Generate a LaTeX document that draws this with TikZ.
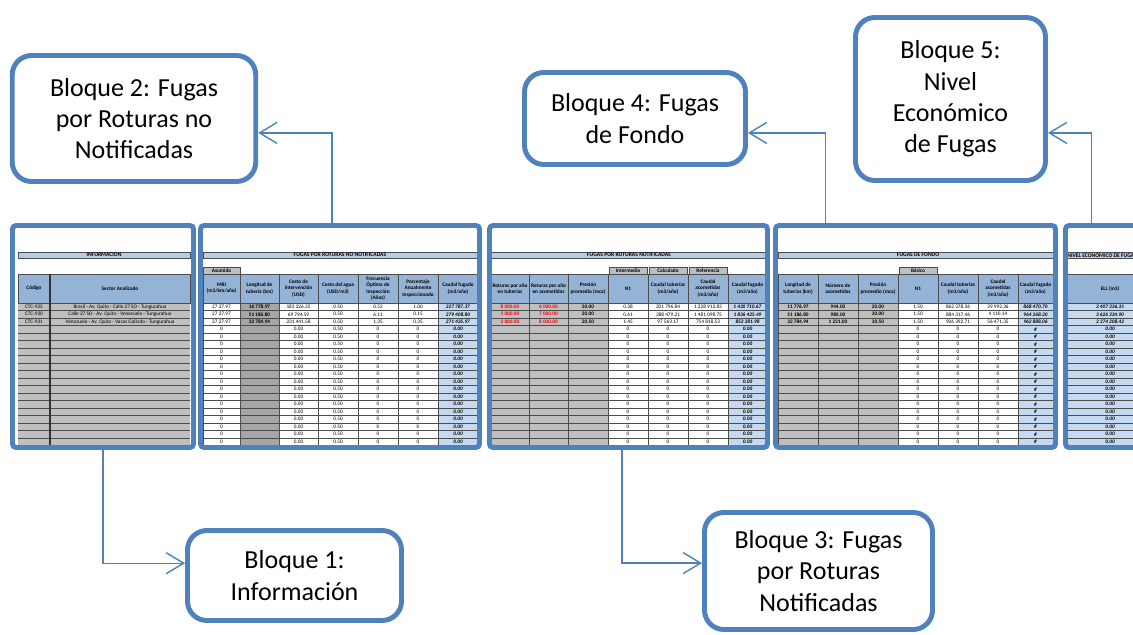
\documentclass[tikz,border=0pt]{standalone}
\usepackage{fontspec}
\setmainfont{Carlito}
\usetikzlibrary{arrows.meta}
\definecolor{marco}{RGB}{79,129,189}
\definecolor{cabecera}{RGB}{149,179,215}
\definecolor{barra}{RGB}{184,204,228}
\definecolor{celdagris}{RGB}{191,191,191}
\definecolor{grisosc}{RGB}{166,166,166}
\definecolor{celdaazul}{RGB}{197,217,241}
\newcommand{\pxu}{0.02cm}
\newcommand{\negrita}[1]{\textbf{\textit{#1}}}
\newcommand{\rojo}[1]{{\color{red}\textbf{#1}}}
\begin{document}
\begin{tikzpicture}[x=0.02cm,y=-0.02cm,>={Straight Barb[length=10pt,width=12pt]},
	bloque/.style={draw=marco,line width=2.8pt,rounded corners=11pt,fill=white,align=center,inner sep=0pt,font=\fontsize{14.8}{17.8}\selectfont},
	tabla/.style={draw=marco,line width=2.8pt,rounded corners=2pt,inner sep=0pt},
	conn/.style={->,draw=marco,line width=0.8pt},
	celda/.style={draw=gray!60!black,line width=0.2pt},
	txt/.style={font=\fontsize{3}{3.6}\selectfont,inner sep=0pt,align=center},
	hdr/.style={txt,font=\fontsize{3}{3.6}\selectfont\bfseries},
	titulo/.style={txt,font=\fontsize{3.2}{3.6}\selectfont\bfseries}]
	\fill[white] (0,0) rectangle (1133,635);
	\useasboundingbox (0,0) rectangle (1133,635);
	% tabla 1: informacion
	\draw[celda,fill=barra] (18,252) rectangle (190,258);
	\node[titulo] (tit1) at (104,255) {INFORMACION};
	\draw[celda,fill=cabecera] (18,274) rectangle (50,303) (50,274) rectangle (190,303);
	\node[hdr] (h1-1) at (34,288.5) {Código};
	\node[hdr] (h1-2) at (120,288.5) {Sector Analizado};
	\fill[celdagris] (18,303) rectangle (190,445);
	\foreach \i in {0,...,19} \draw[celda] (18,303+7.5*\i) -- (190,303+7.5*\i);
	\draw[line width=0.6pt,gray!40!black] (50,274) -- (50,445);
	\foreach \cod/\sector [count=\i] in {CTC-925/Brasil - Av. Quito - Calle 27 SO - Tungurahua,
		CTC-930/Calle 27 SO - Av. Quito - Venezuela - Tungurahua,
		CTC-931/Venezuela - Av. Quito - Vacas Galindo - Tungurahua}{
		\node[txt] (d1-1-\i) at (34,299.25+7.5*\i) {\cod};
		\node[txt] (d1-2-\i) at (120,299.25+7.5*\i) {\sector};
	}
	% tabla 2: roturas no notificadas
	\draw[celda,fill=barra] (203,252) rectangle (478,258);
	\node[titulo] (tit2) at (340,255) {FUGAS POR ROTURAS NO NOTIFICADAS};
	\draw[celda,fill=celdagris] (203,267) rectangle (240,274);
	\node[hdr] (tab2) at (221.5,270.5) {Asumido};
	\foreach \xa/\xb/\relleno/\cab/\va/\vb/\vc/\vr [count=\j] in {
		203/240/white/{MRI\\(m3/km/año)}/27 27.97/27 27.97/27 27.97/0,
		240/279/grisosc/{Longitud de\\tubería (km)}/\textbf{16 778.97}/\textbf{51 186.80}/\textbf{32 784.94}/{},
		279/318/white/{Costo de\\intervención\\(USD)}/183 226.35/69 794.59/231 441.58/0.00,
		318/358/white/{Costo del agua\\(USD/m3)}/0.50/0.50/0.50/0.50,
		358/398/white/{Frecuencia\\Óptima de\\Inspección\\(Años)}/0.52/6.11/1.35/0,
		398/438/white/{Porcentaje\\Anualmente\\Inspeccionado}/1.00/0.15/0.35/0,
		438/478/celdaazul/{Caudal fugado\\(m3/año)}/\negrita{227 787.37}/\negrita{279 408.80}/\negrita{271 435.97}/\negrita{0.00}}{
		\draw[celda,fill=cabecera] (\xa,274) rectangle (\xb,303);
		\node[hdr] (h2-\j) at ({(\xa+\xb)/2},288.5) {\cab};
		\fill[\relleno] (\xa,303) rectangle (\xb,445);
		\node[txt] (d2-\j-1) at ({(\xa+\xb)/2},306.75) {\va};
		\node[txt] (d2-\j-2) at ({(\xa+\xb)/2},314.25) {\vb};
		\node[txt] (d2-\j-3) at ({(\xa+\xb)/2},321.75) {\vc};
		\foreach \i in {4,...,19} \node[txt] (d2-\j-\i) at ({(\xa+\xb)/2},299.25+7.5*\i) {\vr};
	}
	\foreach \i in {0,...,19} \draw[celda] (203,303+7.5*\i) -- (478,303+7.5*\i);
	\foreach \x in {203,240,279,318,358,398,438,478} \draw[celda] (\x,303) -- (\x,445);
	% tabla 3: roturas notificadas
	\draw[celda,fill=barra] (491,252) rectangle (767,258);
	\node[titulo] (tit3) at (629,255) {FUGAS POR ROTURAS NOTIFICADAS};
	\foreach \xa/\xb/\pest [count=\j] in {608/648/Intermedio,648/688/Calculado,688/728/Referencia}{
		\draw[celda,fill=celdagris] (\xa+1,267) rectangle (\xb-1,274);
		\node[hdr] (tab3-\j) at ({(\xa+\xb)/2},270.5) {\pest};
	}
	\foreach \xa/\xb/\relleno/\cab/\va/\vb/\vc/\vr [count=\j] in {
		491/529/celdagris/{Roturas por año\\en tuberías}/\rojo{8 000.00}/\rojo{1 000.00}/\rojo{2 000.00}/{},
		529/568/celdagris/{Roturas por año\\en acometidas}/\rojo{6 000.00}/\rojo{7 000.00}/\rojo{8 000.00}/{},
		568/608/celdagris/{Presión\\promedio (mca)}/\textbf{20.00}/\textbf{20.00}/\textbf{20.50}/{},
		608/648/white/{N1}/0.38/0.61/1.45/0,
		648/688/white/{Caudal tuberías\\(m3/año)}/201 796.84/388 479.21/97 563.17/0,
		688/728/white/{Caudal\\acometidas\\(m3/año)}/1 228 913.83/1 481 098.75/754 818.53/0,
		728/767/celdaazul/{Caudal fugado\\(m3/año)}/\negrita{1 430 710.67}/\negrita{1 836 425.49}/\negrita{852 381.98}/\negrita{0.00}}{
		\draw[celda,fill=cabecera] (\xa,274) rectangle (\xb,303);
		\node[hdr] (h3-\j) at ({(\xa+\xb)/2},288.5) {\cab};
		\fill[\relleno] (\xa,303) rectangle (\xb,445);
		\node[txt] (d3-\j-1) at ({(\xa+\xb)/2},306.75) {\va};
		\node[txt] (d3-\j-2) at ({(\xa+\xb)/2},314.25) {\vb};
		\node[txt] (d3-\j-3) at ({(\xa+\xb)/2},321.75) {\vc};
		\foreach \i in {4,...,19} \node[txt] (d3-\j-\i) at ({(\xa+\xb)/2},299.25+7.5*\i) {\vr};
	}
	\foreach \i in {0,...,19} \draw[celda] (491,303+7.5*\i) -- (767,303+7.5*\i);
	\foreach \x in {491,529,568,608,648,688,728,767} \draw[celda] (\x,303) -- (\x,445);
	% tabla 4: fugas de fondo
	\draw[celda,fill=barra] (778,252) rectangle (1053,258);
	\node[titulo] (tit4) at (918,255) {FUGAS DE FONDO};
	\draw[celda,fill=celdagris] (899,267) rectangle (937,274);
	\node[hdr] (tab4) at (918,270.5) {Básico};
	\foreach \xa/\xb/\relleno/\cab/\va/\vb/\vc/\vr [count=\j] in {
		778/818/celdagris/{Longitud de\\tuberías (km)}/\textbf{11 776.97}/\textbf{51 186.80}/\textbf{32 784.94}/{},
		818/858/celdagris/{Número de\\acometidas}/\textbf{944.00}/\textbf{980.00}/\textbf{1 231.00}/{},
		858/898/celdagris/{Presión\\promedio (mca)}/\textbf{20.00}/\textbf{30.00}/\textbf{30.50}/{},
		898/938/white/{N1}/1.50/1.50/1.50/0,
		938/978/white/{Caudal tuberías\\(m3/año)}/862 378.36/884 317.46/906 392.71/0,
		978/1018/white/{Caudal\\acometidas\\(m3/año)}/39 992.36/4 110.14/56 471.35/0,
		1018/1053/celdaazul/{Caudal fugado\\(m3/año)}/\negrita{868 470.70}/\negrita{964 268.20}/\negrita{962 888.06}/\negrita{\#}}{
		\draw[celda,fill=cabecera] (\xa,274) rectangle (\xb,303);
		\node[hdr] (h4-\j) at ({(\xa+\xb)/2},288.5) {\cab};
		\fill[\relleno] (\xa,303) rectangle (\xb,445);
		\node[txt] (d4-\j-1) at ({(\xa+\xb)/2},306.75) {\va};
		\node[txt] (d4-\j-2) at ({(\xa+\xb)/2},314.25) {\vb};
		\node[txt] (d4-\j-3) at ({(\xa+\xb)/2},321.75) {\vc};
		\foreach \i in {4,...,19} \node[txt] (d4-\j-\i) at ({(\xa+\xb)/2},299.25+7.5*\i) {\vr};
	}
	\foreach \i in {0,...,19} \draw[celda] (778,303+7.5*\i) -- (1053,303+7.5*\i);
	\foreach \x in {778,818,858,898,938,978,1018,1053} \draw[celda] (\x,303) -- (\x,445);
	% tabla 5: nivel economico
	\draw[celda,fill=barra] (1067,252) rectangle (1160,258);
	\node[titulo,anchor=west] (tit5) at (1067,255) {NIVEL ECONÓMICO DE FUGAS};
	\draw[celda,fill=cabecera] (1067,274) rectangle (1153,303);
	\node[hdr] (h5-1) at (1110,288.5) {ELL (m3)};
	\fill[celdaazul] (1067,303) rectangle (1153,445);
	\foreach \i in {0,...,19} \draw[celda] (1067,303+7.5*\i) -- (1153,303+7.5*\i);
	\foreach \v [count=\i] in {2 407 336.31,3 626 334.90,2 374 208.42} \node[txt] (d5-1-\i) at (1110,299.25+7.5*\i) {\negrita{\v}};
	\foreach \i in {4,...,19} \node[txt] (d5-1-\i) at (1110,299.25+7.5*\i) {\negrita{0.00}};
	% marcos
	\node[tabla,minimum width=181*\pxu,minimum height=222*\pxu] (t1) at (103,336.5) {};
	\node[tabla,minimum width=279*\pxu,minimum height=222*\pxu] (t2) at (340,336.5) {};
	\node[tabla,minimum width=278*\pxu,minimum height=222*\pxu] (t3) at (628.5,336.5) {};
	\node[tabla,minimum width=280*\pxu,minimum height=222*\pxu] (t4) at (915.5,336.5) {};
	\node[tabla,minimum width=110*\pxu,minimum height=222*\pxu] (t5) at (1120.5,336.5) {};
	% bloques
	\node[bloque,minimum width=243.5*\pxu,minimum height=126*\pxu] (b2) at (134,118.5) {Bloque 2: Fugas\\por Roturas no\\Notificadas};
	\node[bloque,minimum width=221*\pxu,minimum height=92*\pxu] (b4) at (635,118.5) {Bloque 4: Fugas\\de Fondo};
	\node[bloque,minimum width=190*\pxu,minimum height=163*\pxu] (b5) at (950.5,99) {Bloque 5:\\Nivel\\Económico\\de Fugas};
	\node[bloque,minimum width=214*\pxu,minimum height=90*\pxu] (b1) at (294.5,575.5) {Bloque 1:\\Información};
	\node[bloque,minimum width=228*\pxu,minimum height=117*\pxu] (b3) at (818.5,571) {Bloque 3: Fugas\\por Roturas\\Notificadas};
	% conectores
	\draw[conn] (t1.south) |- ([yshift=7pt]b1.west);
	\draw[conn] ([xshift=-3.7pt]t3.south) |- ([yshift=4.5pt]b3.west);
	\draw[conn] ([xshift=-4.5pt]t2.north) |- ([yshift=-8.2pt]b2.east);
	\draw[conn] ([xshift=-51.3pt]t4.north) |- ([yshift=-8.2pt]b4.east);
	\draw[conn] ([xshift=16.2pt]t5.north west) |- ([yshift=-19.3pt]b5.east);
\end{tikzpicture}
\end{document}
